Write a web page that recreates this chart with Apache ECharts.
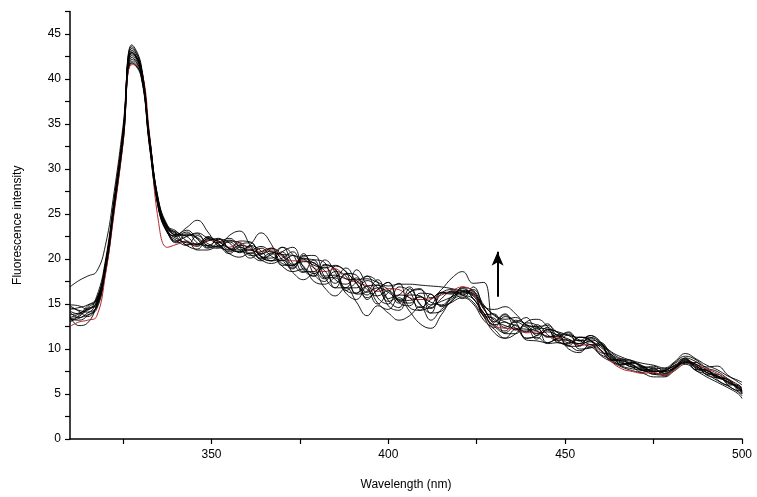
<!DOCTYPE html>
<html>
<head>
<meta charset="utf-8">
<script src="https://cdn.jsdelivr.net/npm/echarts@6/dist/echarts.min.js"></script>
<style>html,body{margin:0;padding:0;background:#fff}#c{width:757px;height:497px}</style>
</head>
<body>
<div id="c"></div>
<script>
// Wavelength grid (nm): 2.5 nm through the peak, 3 nm afterwards
const wavelengths = [
  310, 312.5, 315, 317.5, 320, 322.5, 325, 327.5, 330, 332.5, 335, 337.5,
  340, 343, 346, 349, 352, 355, 358, 361, 364, 367,
  370, 373, 376, 379, 382, 385, 388, 391, 394, 397,
  400, 403, 406, 409, 412, 415, 418, 421, 424, 427,
  430, 433, 436, 439, 442, 445, 448, 451, 454, 457,
  460, 463, 466, 469, 472, 475, 478, 481, 484, 487,
  490, 493, 496, 499, 500
];

const s1 = [16.9,17.6,18.1,18.6,21.5,27.5,34.8,43.0,41.4,33.4,26.6,23.8,
  22.7,23.2,22.2,21.2,21.8,22.3,21.3,20.1,20.8,21.2,
  19.9,18.9,20.3,20.4,18.0,16.8,18.4,18.2,15.5,16.6,
  17.4,15.3,16.3,16.6,15.7,16.6,17.9,18.6,17.3,17.4,
  13.0,13.9,13.0,13.5,12.1,12.8,11.5,11.9,10.9,11.5,
  10.7,9.6,8.9,8.7,7.9,8.1,7.6,8.5,9.2,8.8,
  7.9,7.5,6.7,6.0,5.7];
const s2 = [13.5,13.9,14.6,15.5,19.4,26.4,34.0,43.6,41.6,33.6,26.4,23.6,
  22.7,23.5,24.3,23.0,21.4,21.0,22.0,21.9,20.3,19.8,
  20.8,21.3,19.1,18.1,19.3,18.9,16.5,16.2,18.1,17.4,
  14.8,14.3,16.3,16.7,14.0,14.2,15.9,16.5,16.4,13.8,
  13.9,11.7,11.7,12.9,12.6,10.7,11.2,11.8,10.0,10.1,
  10.5,8.7,8.9,8.0,7.4,7.9,7.0,7.8,9.0,7.7,
  7.7,6.6,6.0,6.0,5.0];
const s3 = [14.8,14.2,13.6,14.8,18.6,25.6,33.0,41.8,40.6,32.6,25.6,22.9,
  22.1,21.5,22.6,21.7,21.3,22.6,23.1,21.5,20.0,20.5,
  21.3,19.5,18.5,19.9,19.6,16.8,16.8,18.8,17.0,15.0,
  16.3,17.3,14.6,14.3,16.1,14.8,15.3,16.9,15.6,14.0,
  12.4,13.6,13.0,11.2,11.5,12.4,10.9,10.4,11.3,11.0,
  9.6,9.4,8.2,8.5,7.9,7.2,7.5,8.2,8.4,8.5,
  7.2,7.2,6.0,5.4,5.5];
const s4 = [13.2,13.4,14.0,14.6,18.8,25.8,33.3,42.8,41.2,33.0,25.8,23.0,
  21.9,22.7,22.3,21.3,22.2,21.8,20.7,21.6,22.9,21.6,
  19.3,19.3,20.6,18.3,17.5,19.2,18.6,16.1,16.4,17.7,
  15.4,14.6,16.7,15.0,14.0,16.3,16.3,15.6,16.9,14.5,
  12.7,12.0,13.2,12.6,11.1,12.2,11.8,10.3,10.3,11.5,
  10.8,8.8,8.3,8.5,8.1,7.3,7.2,7.9,8.6,8.2,
  7.1,6.8,6.6,5.3,5.0];
const s5 = [13.6,12.6,12.9,14.9,19.2,26.2,33.7,43.0,41.0,33.2,26.2,23.4,
  22.5,21.5,21.1,22.3,21.6,20.6,21.3,20.5,19.8,20.6,
  19.2,18.6,18.9,17.5,17.2,17.9,16.2,15.5,17.0,15.1,
  14.4,15.7,14.2,12.8,12.3,13.8,15.4,15.9,15.6,13.6,
  12.5,11.8,12.7,11.0,10.9,10.7,11.2,10.0,9.6,10.5,
  9.3,8.6,8.0,7.6,7.3,6.9,6.9,7.6,8.3,7.6,
  6.9,6.3,5.7,5.0,4.5];
const s6 = [14.4,14.6,14.9,15.6,19.0,26.0,33.4,42.0,40.6,32.6,26.0,23.6,
  23.0,22.6,22.9,22.3,21.8,22.1,21.4,21.0,21.4,20.8,
  20.5,20.4,20.0,19.3,19.0,19.3,18.6,17.7,17.8,17.4,
  17.0,17.2,17.2,17.1,17.0,16.9,16.7,16.4,16.1,14.8,
  13.8,13.3,13.5,12.7,12.5,12.6,11.8,11.5,11.3,11.3,
  10.7,9.7,9.1,8.7,8.4,8.2,7.9,8.6,9.5,8.9,
  8.2,7.7,7.0,6.5,6.3];
const s7 = [14.1,13.5,13.8,14.4,18.4,25.4,33.0,41.8,40.4,32.4,25.6,23.0,
  21.8,22.0,21.0,21.0,21.5,20.6,20.2,20.7,19.9,19.5,
  19.9,18.5,17.7,18.4,16.8,15.9,16.8,15.2,13.7,14.8,
  14.0,13.2,13.7,14.7,13.2,14.4,15.2,15.7,15.0,13.2,
  12.2,11.2,12.2,11.2,11.3,10.6,10.7,10.4,9.8,10.2,
  9.4,8.8,8.1,7.8,7.6,7.2,7.1,7.8,8.5,7.6,
  7.2,6.5,5.9,5.2,4.8];
const s8 = [13.8,14.0,14.4,15.2,19.1,26.1,33.8,43.8,41.8,33.4,26.2,23.4,
  22.9,21.6,21.6,22.5,21.7,20.8,21.6,21.8,20.2,19.8,
  21.3,20.5,18.6,18.6,19.9,18.5,16.5,17.4,18.1,15.7,
  15.0,16.9,16.4,14.3,14.8,16.3,16.2,16.8,16.5,14.6,
  13.0,13.8,12.3,12.0,12.7,11.6,10.9,11.6,11.0,10.3,
  10.7,9.3,8.3,8.4,8.0,7.5,7.7,8.1,8.8,8.3,
  7.7,6.9,6.6,5.8,5.6];
const s9 = [14.6,14.3,14.1,15.3,19.5,26.5,34.0,43.2,41.2,33.2,26.3,23.3,
  22.0,22.5,22.8,21.4,21.2,22.0,21.8,20.4,20.5,21.2,
  20.4,19.0,20.0,19.9,17.9,18.0,19.0,17.3,15.7,16.6,
  17.4,15.2,14.8,16.2,16.1,14.7,15.6,16.2,15.9,13.6,
  11.8,11.2,11.7,13.0,13.3,12.5,10.7,10.6,11.3,11.0,
  9.9,8.8,8.7,8.3,7.6,7.5,7.5,7.9,8.5,8.3,
  7.4,7.0,6.6,5.5,5.1];
const s10 = [13.4,13.6,14.5,14.9,19.3,26.3,33.8,42.9,41.4,33.4,26.0,23.0,
  22.6,23.0,21.8,21.5,22.2,21.1,20.8,21.5,20.9,19.8,
  20.1,20.8,18.8,18.1,19.4,18.8,16.8,16.8,17.6,16.8,
  15.3,16.0,16.9,14.9,14.5,16.2,16.6,16.0,16.6,14.9,
  13.7,13.0,12.6,11.9,12.3,11.3,11.6,10.9,10.6,11.2,
  10.4,9.2,8.6,8.0,8.0,7.5,7.6,8.2,8.9,7.9,
  7.6,7.1,6.2,5.9,5.4];
const s11 = [14.2,13.9,14.3,15.1,18.9,25.9,33.5,42.6,41.0,33.0,25.8,23.1,
  22.3,21.8,21.7,22.4,21.9,21.2,21.0,21.4,20.3,20.1,
  20.8,19.4,19.7,19.6,18.1,18.2,17.8,17.6,16.3,16.8,
  16.3,15.4,15.1,15.8,15.2,14.9,15.8,16.3,16.0,14.7,
  14.4,14.7,13.9,12.7,12.4,12.2,11.9,11.5,10.9,11.0,
  10.6,9.4,8.8,8.6,8.1,7.9,7.8,8.4,9.0,8.6,
  8.0,8.1,7.1,6.3,6.0];
const s12 = [13.0,13.7,14.8,15.4,19.1,26.1,33.6,42.4,40.8,32.8,26.2,23.6,
  22.8,22.5,21.6,22.0,22.3,21.2,20.8,21.0,20.6,20.9,
  19.5,19.3,20.4,19.0,17.8,18.6,18.1,16.2,17.0,17.1,
  15.6,16.0,15.7,14.6,15.5,16.2,16.1,16.7,15.6,14.0,
  12.7,13.0,12.1,12.6,11.5,12.1,11.0,11.0,10.4,10.9,
  9.9,9.0,8.4,8.2,7.6,7.7,7.3,8.0,8.8,7.8,
  7.4,6.8,6.4,5.6,5.2];
const s13 = [14.9,14.8,14.4,15.8,19.8,26.8,34.2,43.4,41.5,33.5,26.5,23.7,
  23.1,22.0,21.4,22.2,22.0,21.0,21.5,21.2,20.1,20.7,
  20.5,19.2,20.1,19.5,18.7,17.3,18.3,17.3,16.0,17.1,
  16.6,15.1,16.0,15.9,14.6,15.6,16.4,16.0,15.2,13.7,
  13.4,12.4,13.0,12.4,11.7,11.9,11.5,10.7,11.0,10.5,
  10.4,8.9,8.7,8.2,7.7,7.8,7.3,7.9,8.7,8.1,
  7.4,7.0,6.3,5.7,5.3];
const s14 = [13.3,13.2,13.7,14.7,18.7,25.7,33.2,42.2,40.9,32.9,25.9,23.2,
  22.5,22.8,22.4,21.5,21.4,21.9,21.0,20.6,21.2,20.3,
  19.8,20.4,19.2,18.4,19.1,17.7,17.2,17.9,16.6,15.9,
  16.5,15.5,15.4,15.8,14.9,15.3,15.8,16.4,16.2,14.4,
  13.2,12.6,12.3,12.2,12.0,11.4,11.4,11.1,10.6,10.8,
  10.2,9.1,8.5,8.0,7.8,7.6,7.5,8.0,8.6,8.0,
  7.6,6.9,6.4,5.7,5.4];
const sRed = [12.5,13.0,13.2,13.6,18.2,25.2,32.8,41.6,41.2,33.8,24.2,21.3,
  21.6,21.9,21.5,22.1,22.0,21.3,21.8,21.0,20.8,21.1,
  20.3,19.8,19.8,19.0,18.6,18.9,17.8,17.4,17.0,16.4,
  16.7,16.6,15.7,15.5,15.6,16.0,16.5,16.9,16.3,13.8,
  12.6,12.3,12.2,11.8,11.9,11.4,11.2,10.9,10.4,10.5,
  9.8,8.6,7.8,7.5,7.3,7.4,7.1,7.7,8.5,8.2,
  7.8,7.3,6.6,5.8,5.6];

const blackSeries = [s1, s2, s3, s4, s5, s6, s7, s8, s9, s10, s11, s12, s13, s14];

// Arrow (wavelength, start intensity, end intensity)
const arrowX = 430.9;
const arrowY = [15.8, 20.8];

const xTickValues = [325, 350, 375, 400, 425, 450, 475, 500];
const xLabelValues = [350, 400, 450, 500];

function pairs(ys) { return wavelengths.map((x, i) => [x, ys[i]]); }

const series = [];
blackSeries.forEach((ys, k) => {
  series.push({
    type: 'line', data: pairs(ys), smooth: 0.45, showSymbol: false, symbol: 'none',
    lineStyle: { color: '#000', width: 0.9 }, z: 2, silent: true
  });
  if (k === 7) {
    series.push({
      type: 'line', data: pairs(sRed), smooth: 0.45, showSymbol: false, symbol: 'none',
      lineStyle: { color: '#b5262a', width: 1 }, z: 2, silent: true
    });
  }
});
series.push({
  type: 'line', data: [], silent: true,
  markLine: {
    silent: true, animation: false,
    symbol: ['none', 'arrow'], symbolSize: [9, 14],
    lineStyle: { color: '#000', width: 2, type: 'solid' },
    label: { show: false },
    data: [[{ coord: [arrowX, arrowY[0]] }, { coord: [arrowX, arrowY[1]] }]]
  }
});

const chart = echarts.init(document.getElementById('c'), null, { renderer: 'canvas' });
const fontFamily = 'Arial, "Liberation Sans", sans-serif';
chart.setOption({
  animation: false,
  backgroundColor: '#fff',
  grid: { left: 70, right: 15, top: 11.5, bottom: 58, containLabel: false },
  xAxis: {
    type: 'value', min: 310, max: 500,
    name: 'Wavelength (nm)', nameLocation: 'middle', nameGap: 40,
    nameTextStyle: { fontFamily, fontSize: 12, color: '#000' },
    axisLine: { show: true, onZero: false, lineStyle: { color: '#000', width: 1.5 } },
    axisTick: { show: true, length: 5, inside: false, customValues: xTickValues, lineStyle: { color: '#000', width: 1.2 } },
    axisLabel: { customValues: xLabelValues, fontFamily, fontSize: 12, color: '#000', margin: 10 },
    splitLine: { show: false }
  },
  yAxis: {
    type: 'value', min: 0, max: 47.5, interval: 2.5,
    name: 'Fluorescence intensity', nameLocation: 'middle', nameGap: 46,
    nameTextStyle: { fontFamily, fontSize: 12, color: '#000' },
    axisLine: { show: true, onZero: false, lineStyle: { color: '#000', width: 1.5 } },
    axisTick: { show: true, length: 5, inside: false, lineStyle: { color: '#000', width: 1.2 } },
    axisLabel: {
      fontFamily, fontSize: 12, color: '#000', margin: 9,
      formatter: v => (Math.abs(v % 5) < 1e-9 ? String(v) : '')
    },
    splitLine: { show: false }
  },
  series
});
</script>
</body>
</html>
